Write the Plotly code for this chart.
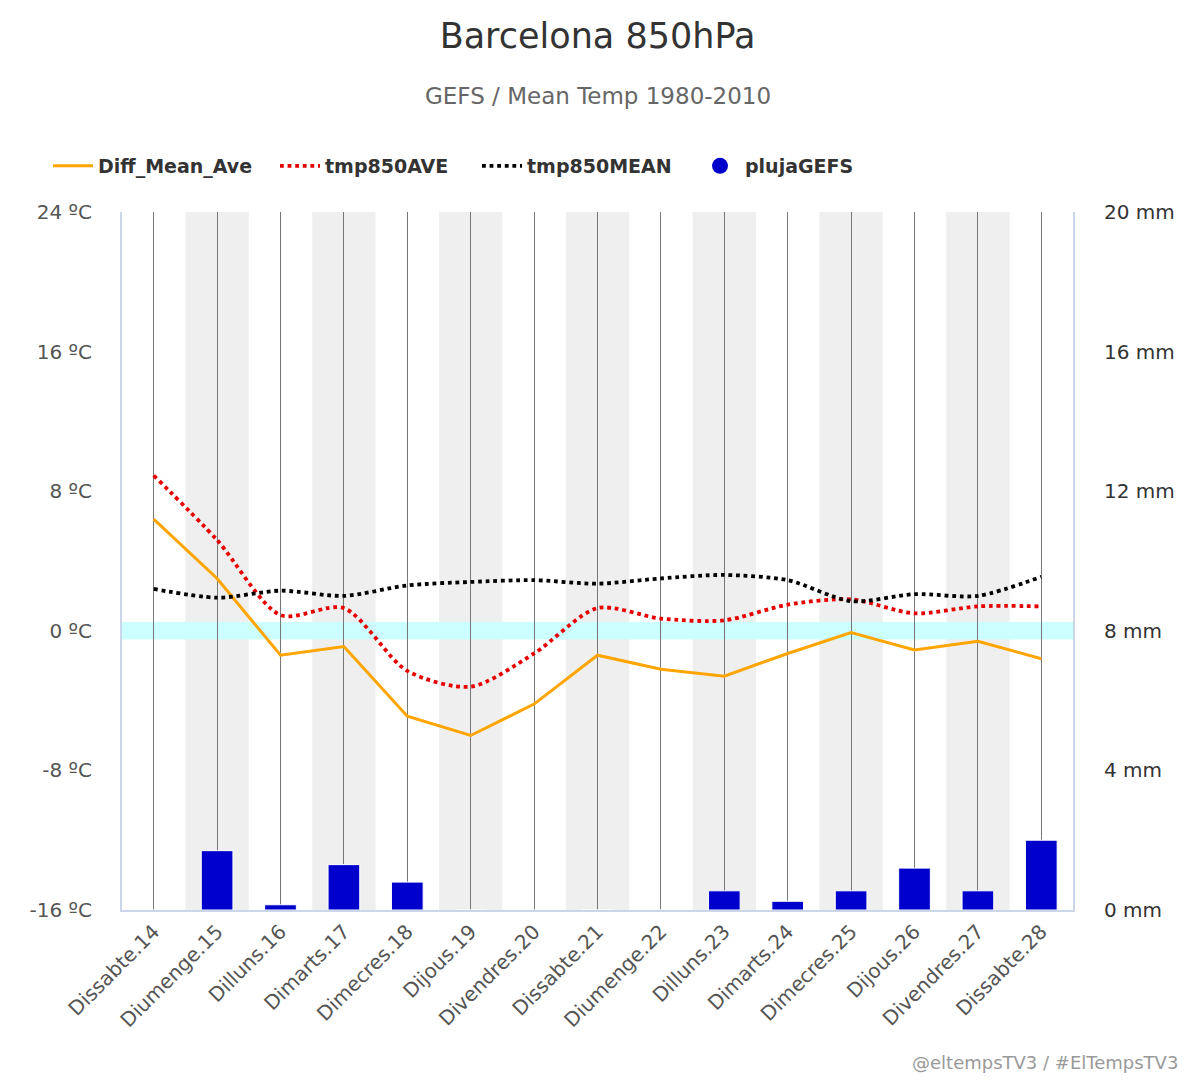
import plotly.graph_objects as go

days = ["Dissabte.14", "Diumenge.15", "Dilluns.16", "Dimarts.17", "Dimecres.18",
        "Dijous.19", "Divendres.20", "Dissabte.21", "Diumenge.22", "Dilluns.23",
        "Dimarts.24", "Dimecres.25", "Dijous.26", "Divendres.27", "Dissabte.28"]
diff_mean_ave = [6.4, 3.0, -1.4, -0.9, -4.9, -6.0, -4.2, -1.4, -2.2, -2.6, -1.3, -0.1, -1.1, -0.6, -1.6]
tmp850_ave = [8.9, 5.2, 0.9, 1.3, -2.3, -3.2, -1.3, 1.3, 0.7, 0.6, 1.5, 1.8, 1.0, 1.4, 1.4]
tmp850_mean = [2.4, 1.9, 2.3, 2.0, 2.6, 2.8, 2.9, 2.7, 3.0, 3.2, 2.9, 1.7, 2.1, 2.0, 3.1]
pluja_gefs = [0, 1.7, 0.15, 1.3, 0.8, 0, 0, 0, 0, 0.55, 0.25, 0.55, 1.2, 0.55, 2.0]

temp_ticks = [-16, -8, 0, 8, 16, 24]
rain_ticks = [0, 4, 8, 12, 16, 20]

x = list(range(len(days)))
FONT = "DejaVu Sans"

L, R, T, B = 122, 127, 212, 170
plot_w = 1200 - L - R
plot_h = 1080 - T - B


def px_x(p):
    return (p - L) / plot_w


def px_y(p):
    return (1080 - B - p) / plot_h


fig = go.Figure()

fig.add_trace(go.Bar(x=x, y=pluja_gefs, yaxis="y2", marker=dict(color="#0000cc", line=dict(color="white", width=1)),
                     width=0.5, name="plujaGEFS", showlegend=False))
fig.add_trace(go.Scatter(x=x, y=diff_mean_ave, mode="lines", name="Diff_Mean_Ave", legend="legend",
                         line=dict(color="#ffa500", width=3)))
fig.add_trace(go.Scatter(x=x, y=tmp850_ave, mode="lines", name="tmp850AVE", legend="legend2",
                         line=dict(color="#e60000", width=3.8, dash="dot", shape="spline", smoothing=0.8)))
fig.add_trace(go.Scatter(x=x, y=tmp850_mean, mode="lines", name="tmp850MEAN", legend="legend3",
                         line=dict(color="#000000", width=3.8, dash="dot", shape="spline", smoothing=0.8)))
fig.add_trace(go.Scatter(x=[None], y=[None], mode="markers", name="plujaGEFS", legend="legend4",
                         marker=dict(color="#0000cc", size=17, symbol="circle")))

shapes = []
for i in range(1, len(days), 2):
    shapes.append(dict(type="rect", xref="x", yref="paper", x0=i - 0.5, x1=i + 0.5, y0=0, y1=1,
                       fillcolor="#efefef", line=dict(width=0), layer="below"))
shapes.append(dict(type="rect", xref="paper", yref="y", x0=0, x1=1, y0=-0.5, y1=0.5,
                   fillcolor="#ccffff", line=dict(width=0), layer="between"))

legend_font = dict(family=FONT, size=19, color="#333333", weight="bold")


def leg(px):
    return dict(orientation="h", x=px_x(px), xanchor="left", y=px_y(166), yanchor="middle",
                font=legend_font, itemwidth=40, bgcolor="rgba(0,0,0,0)")


fig.update_layout(
    width=1200, height=1080,
    margin=dict(l=L, r=R, t=T, b=B),
    paper_bgcolor="white", plot_bgcolor="white",
    font=dict(family=FONT, color="#333333"),
    title=dict(text="Barcelona 850hPa", x=0.5, xref="paper", xanchor="center", y=0.967, yanchor="middle",
               font=dict(family=FONT, size=35, color="#333333")),
    shapes=shapes,
    showlegend=True,
    legend=leg(48),
    legend2=leg(275),
    legend3=leg(477),
    legend4=leg(695),
    xaxis=dict(range=[-0.5, len(days) - 0.5], tickmode="array", tickvals=x, ticktext=days,
               tickangle=-45, showgrid=True, gridcolor="#777777", gridwidth=1,
               showline=True, linecolor="#ccd6eb", linewidth=2, zeroline=False,
               tickfont=dict(family=FONT, size=20, color="#555555"), ticks=""),
    yaxis=dict(range=[-16, 24], tickmode="array", tickvals=temp_ticks,
               ticktext=[f"{v} ºC" for v in temp_ticks], showgrid=False, zeroline=False,
               showline=True, linecolor="#ccd6eb", linewidth=2, ticklabelstandoff=24,
               tickfont=dict(family=FONT, size=20, color="#555555")),
    yaxis2=dict(range=[0, 20], overlaying="y", side="right", tickmode="array", tickvals=rain_ticks,
                ticktext=[f"{v} mm" for v in rain_ticks], showgrid=False, zeroline=False,
                showline=True, linecolor="#ccd6eb", linewidth=2, ticklabelstandoff=25,
                tickfont=dict(family=FONT, size=20, color="#333333")),
    annotations=[
        dict(text="GEFS / Mean Temp 1980-2010", x=0.5, xref="paper", y=px_y(96), yref="paper",
             yanchor="middle", showarrow=False, font=dict(family=FONT, size=23, color="#666666")),
        dict(text="@eltempsTV3 / #ElTempsTV3", x=px_x(1180), xanchor="right", xref="paper",
             y=px_y(1062), yanchor="middle", yref="paper", showarrow=False,
             font=dict(family=FONT, size=18, color="#999999")),
    ],
)

fig.write_html("out.html")
